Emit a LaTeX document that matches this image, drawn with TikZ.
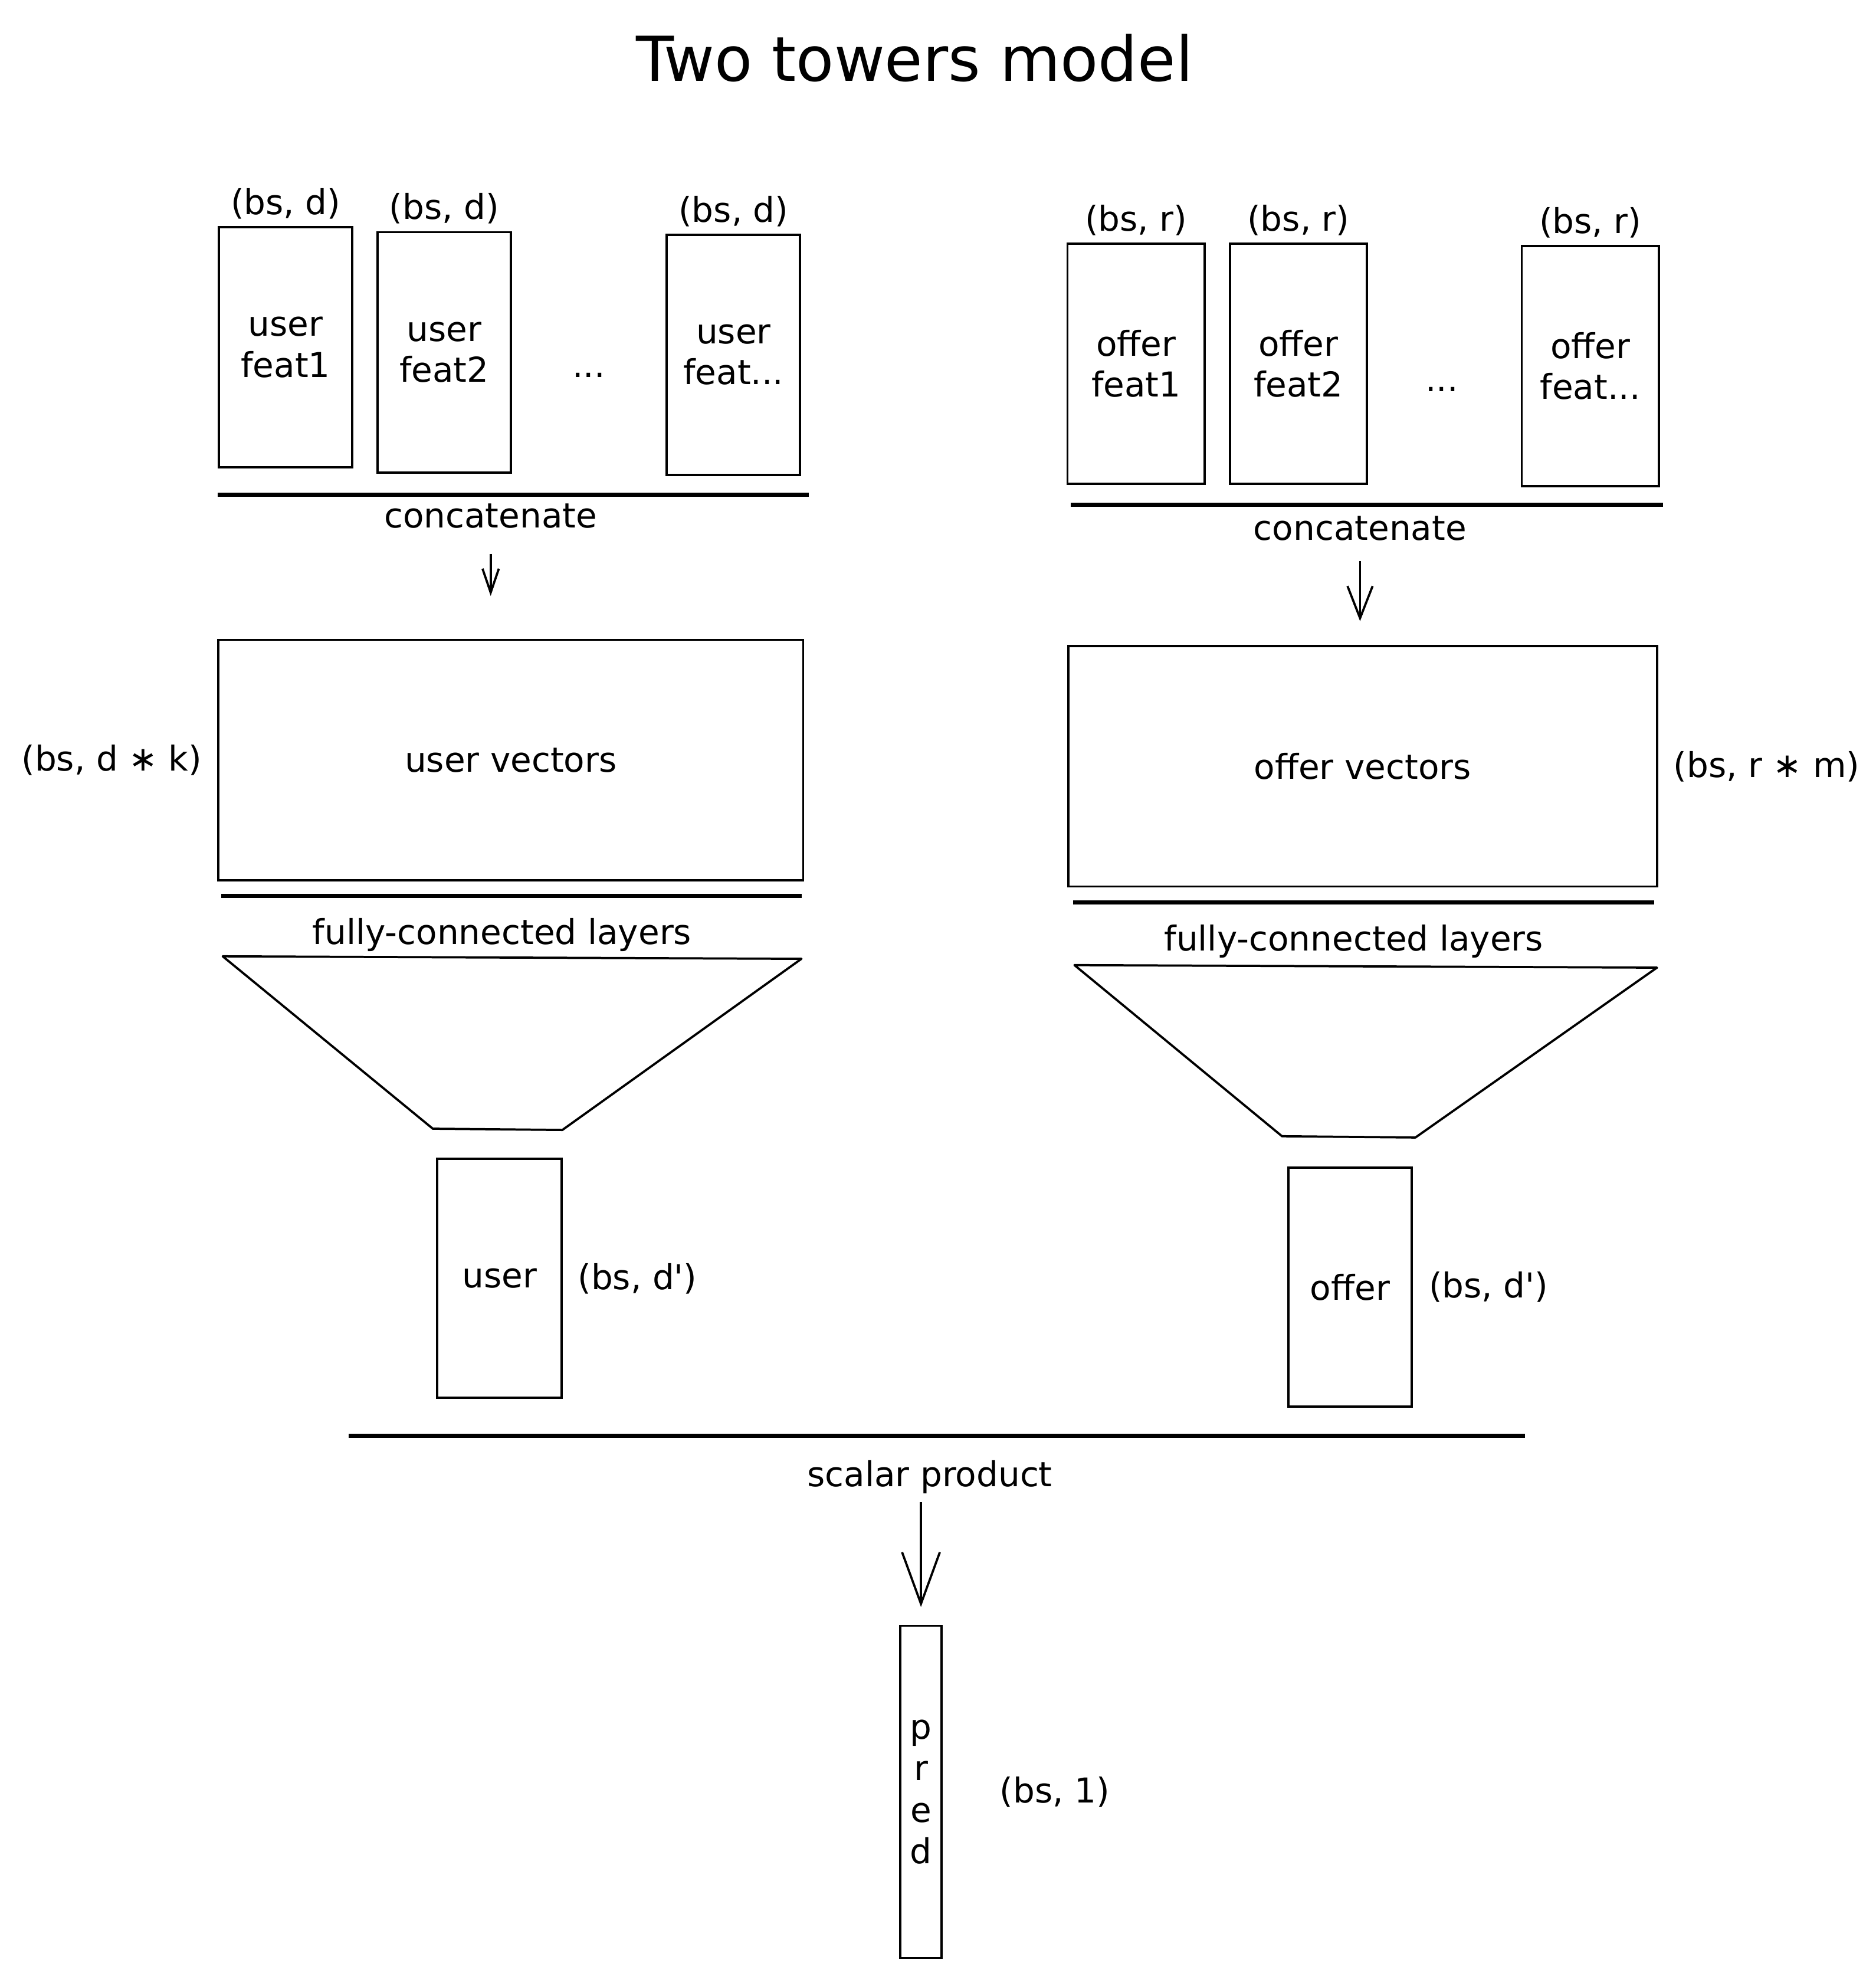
\documentclass[tikz,border=0pt]{standalone}
\usepackage{fontspec}
\setmainfont{DejaVu Sans}
\usepackage{tikz}
\usetikzlibrary{arrows.meta, positioning}
\newcommand{\handtxt}{\fontsize{15.5}{18.5}\selectfont}
\newcommand{\featdots}{...}

\begin{document}
\begin{tikzpicture}[x=0.02cm, y=-0.02cm,
		featbox/.style={draw, line width=1pt, minimum width=2.12cm, minimum height=3.82cm, align=center, inner sep=0pt, font=\handtxt},
		vecbox/.style={draw, line width=1pt, minimum width=9.3cm, minimum height=3.82cm, inner sep=0pt, font=\handtxt},
		outbox/.style={draw, line width=1pt, minimum width=1.98cm, minimum height=3.8cm, inner sep=0pt, font=\handtxt},
		dimlbl/.style={font=\handtxt, inner sep=0pt},
		lbl/.style={font=\handtxt, inner sep=0pt},
		bar/.style={line width=1.8pt},
		funnel/.style={line width=1pt, line join=round}]
	\useasboundingbox (0,0) rectangle (1491,1568);
	% titre
	\node[font={\fontsize{28}{32}\selectfont}] (title) at (727,46) {Two towers model};

	% tour user
	\foreach \n/\cx/\cy/\ft in {1/227/276/feat1, 2/353/280/feat2, 3/583/282/feat\featdots}{
		\node[featbox] (uf\n) at (\cx,\cy) {user\\\ft};
		\node[dimlbl, above=3pt of uf\n] (ufd\n) {(bs, d)};
	}
	\node[lbl, anchor=base] (udots) at (468,300) {\featdots};
	\draw[bar] (173,393) -- (643,393);
	\node[lbl] (ucat) at (390,410) {concatenate};
	\node[vecbox] (uvec) at (406,604) {user vectors};
	\node[dimlbl, left=0.24cm of uvec] (uvecd) {(bs, d ∗ k)};
	\draw[-{Straight Barb[length=0.38cm, width=0.26cm]}, line width=1pt, shorten <=0.4cm, shorten >=0.68cm]
		(ucat.south) -- (ucat.south |- uvec.north);
	\draw[bar] (176,712) -- (637,712);
	\node[lbl] (ufc) at (399,743) {fully-connected layers};
	\draw[funnel] (177,760) -- (637,762) -- (447,898) -- (344,897) -- cycle;
	\node[outbox] (user) at (397,1016) {user};
	\node[dimlbl, right=0.23cm of user] (userd) {(bs, d\textquotesingle)};

	% tour offer
	\foreach \n/\cx/\cy/\ft in {1/903/289/feat1, 2/1032/289/feat2, 3/1264/291/feat\featdots}{
		\node[featbox, minimum width=2.18cm] (of\n) at (\cx,\cy) {offer\\\ft};
		\node[dimlbl, above=3pt of of\n] (ofd\n) {(bs, r)};
	}
	\node[lbl, anchor=base] (odots) at (1146,311) {\featdots};
	\draw[bar] (851,401) -- (1322,401);
	\node[lbl] (ocat) at (1081,420) {concatenate};
	\node[vecbox, minimum width=9.36cm] (ovec) at (1083,609) {offer vectors};
	\node[dimlbl, right=0.24cm of ovec] (ovecd) {(bs, r ∗ m)};
	\draw[-{Straight Barb[length=0.51cm, width=0.4cm]}, line width=1pt, shorten <=0.32cm, shorten >=0.38cm]
		(ocat.south) -- (ocat.south |- ovec.north);
	\draw[bar] (853,717) -- (1315,717);
	\node[lbl] (ofc) at (1076,748) {fully-connected layers};
	\draw[funnel] (854,767) -- (1317,769) -- (1125,904) -- (1019,903) -- cycle;
	\node[outbox, minimum width=1.96cm] (offer) at (1073,1023) {offer};
	\node[dimlbl, right=0.25cm of offer] (offerd) {(bs, d\textquotesingle)};

	% produit scalaire
	\draw[bar] (277,1141) -- (1212,1141);
	\node[lbl] (sp) at (739,1174) {scalar product};
	\node[draw, line width=1pt, minimum width=0.66cm, minimum height=5.28cm, inner sep=0pt, align=center,
		font={\fontsize{15.5}{18.8}\selectfont}] (pred) at (732,1424) {p\\r\\e\\d};
	\node[dimlbl, right=0.9cm of pred] (predd) {(bs, 1)};
	\draw[-{Straight Barb[length=0.82cm, width=0.6cm]}, line width=1pt, shorten <=0.13cm, shorten >=0.28cm]
		(pred.north |- sp.south) -- (pred.north);
\end{tikzpicture}
\end{document}
